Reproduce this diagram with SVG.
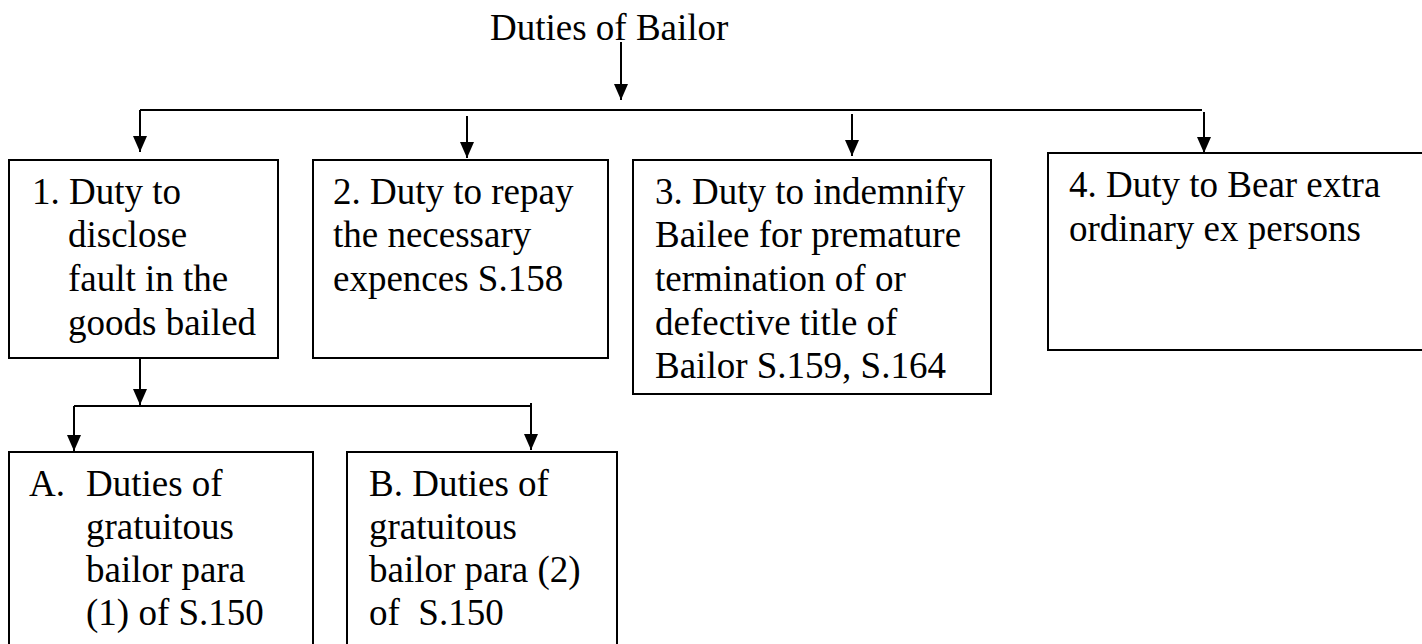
<svg xmlns="http://www.w3.org/2000/svg" width="1422" height="644" viewBox="0 0 1422 644">
<style>
text{font-family:"Liberation Serif","Times New Roman",serif;font-size:37px;fill:#000;white-space:pre}
.box{fill:#fff;stroke:#000;stroke-width:2}
.ln{fill:none;stroke:#000;stroke-width:2}
.ar{fill:none;stroke:#000;stroke-width:2;marker-end:url(#ah)}
</style>
<defs>
<marker id="ah" markerUnits="userSpaceOnUse" markerWidth="16" markerHeight="14" refX="16" refY="7" orient="auto" viewBox="0 0 16 14">
<path d="M0,0 L16,7 L0,14 Z" fill="#000"/>
</marker>
</defs>
<rect width="1422" height="644" fill="#fff"/>
<g id="title"><text x="490" y="40">Duties of Bailor</text></g>
<g id="connectors">
<path class="ar" d="M621,42 V100"/>
<path class="ln" d="M140,110 H1202"/>
<path class="ar" d="M140,110 V152"/>
<path class="ar" d="M467,116 V158"/>
<path class="ar" d="M852,114 V156"/>
<path class="ar" d="M1204,112 V153"/>
<path class="ar" d="M140,358 V405"/>
<path class="ln" d="M74,406 H531"/>
<path class="ar" d="M74,406 V451"/>
<path class="ar" d="M531,403 V450"/>
</g>
<g id="box1"><rect class="box" x="9" y="160" width="269" height="198"/>
<text x="32" y="204">1. Duty to</text><text x="68" y="247">disclose</text><text x="68" y="291">fault in the</text><text x="68" y="335">goods bailed</text></g>
<g id="box2"><rect class="box" x="313" y="160" width="295" height="198"/>
<text x="333" y="204">2. Duty to repay</text><text x="333" y="247">the necessary</text><text x="333" y="291">expences S.158</text></g>
<g id="box3"><rect class="box" x="633" y="160" width="358" height="234"/>
<text x="655" y="204">3. Duty to indemnify</text><text x="655" y="247">Bailee for premature</text><text x="655" y="291">termination of or</text><text x="655" y="335">defective title of</text><text x="655" y="378">Bailor S.159, S.164</text></g>
<g id="box4"><rect class="box" x="1048" y="153" width="400" height="197"/>
<text x="1069" y="197">4. Duty to Bear extra</text><text x="1069" y="241">ordinary ex persons</text></g>
<g id="boxA"><rect class="box" x="9" y="452" width="304" height="220"/>
<text x="29" y="496">A.</text><text x="86" y="496">Duties of</text><text x="86" y="539">gratuitous</text><text x="86" y="582">bailor para</text><text x="86" y="625">(1) of S.150</text></g>
<g id="boxB"><rect class="box" x="347" y="452" width="270" height="220"/>
<text x="369" y="496">B. Duties of</text><text x="369" y="539">gratuitous</text><text x="369" y="582">bailor para (2)</text><text x="369" y="625">of  S.150</text></g>
</svg>
